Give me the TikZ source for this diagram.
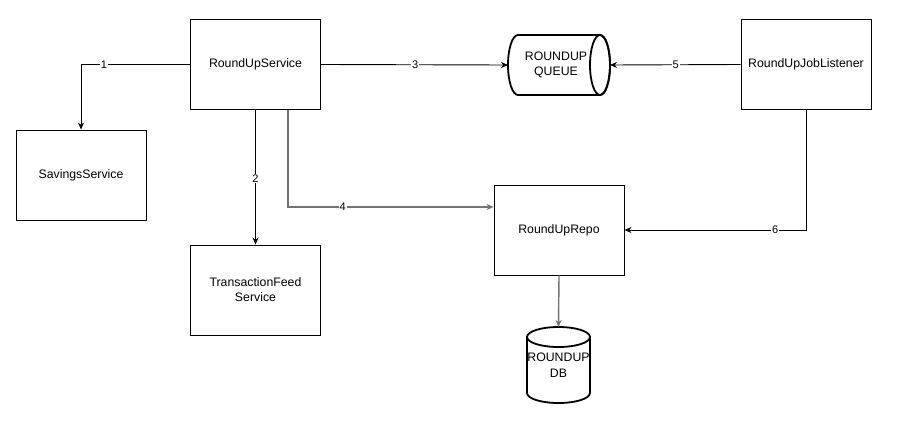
\documentclass[tikz,border=0pt]{standalone}
\usepackage{fontspec}
\setmainfont{Liberation Sans}
\usetikzlibrary{arrows.meta}
\begin{document}
\begin{tikzpicture}[x=1pt,y=-1pt,
  box/.style={draw=black,line width=0.9pt,minimum width=130pt,minimum height=90pt,align=center,inner sep=0pt,font=\fontsize{12.3}{15}\selectfont},
  conn/.style={line width=0.9pt,-{Stealth[length=7pt,width=6pt]}},
  greyconn/.style={conn,draw=black!55,line width=1.4pt},
  num/.style={fill=white,inner sep=1pt,font=\fontsize{11}{12}\selectfont},
  cyl/.style={line width=1.8pt},
  cyltext/.style={align=center,inner sep=0pt,font=\fontsize{12.3}{15.5}\selectfont}]
\useasboundingbox (0,0) rectangle (899,428);

% services
\node[box] (svc) at (255.5,64.5) {RoundUpService};
\node[box] (sav) at (81,175) {SavingsService};
\node[box] (feed) at (255.5,290) {TransactionFeed\\Service};
\node[box] (job) at (806,64.5) {RoundUpJobListener};
\node[box] (repo) at (559,230) {RoundUpRepo};

% message queue (horizontal cylinder)
\draw[cyl,fill=white] (518,35) -- (600,35)
  arc[start angle=90,end angle=-90,x radius=10pt,y radius=30pt] -- (518,95)
  arc[start angle=270,end angle=90,x radius=10pt,y radius=30pt] -- cycle;
\draw[cyl] (600,65) ellipse[x radius=10pt,y radius=30pt];
\node[cyltext] (queue) at (556,65) {ROUNDUP\\QUEUE};
\coordinate (qin) at (508,65);
\coordinate (qout) at (610,65);

% database (vertical cylinder)
\draw[cyl,fill=white] (527,337) -- (527,393)
  arc[start angle=180,end angle=360,x radius=31.5pt,y radius=10pt] -- (590,337);
\draw[cyl] (558.5,337) ellipse[x radius=31.5pt,y radius=10pt];
\node[cyltext] (db) at (558.5,365) {ROUNDUP\\DB};
\coordinate (dbtop) at (558.5,327);

% connectors
\draw[conn] (svc.west) -| node[num,pos=0.395] {1} (sav.north);
\draw[conn] (svc.south) -- node[num,pos=0.51] {2} (feed.north);
\draw[conn] (svc.east) -- node[num,pos=0.504] {3} (qin);
\draw[greyconn] ([xshift=32.5pt]svc.south) |- node[num,pos=0.633] {4} ([yshift=23pt]repo.west);
\draw[conn] (job.west) -- node[num,pos=0.496] {5} (qout);
\draw[conn] (job.south) |- node[num,pos=0.585] {6} (repo.east);
\draw[greyconn] (repo.south) -- (dbtop);
\end{tikzpicture}
\end{document}
